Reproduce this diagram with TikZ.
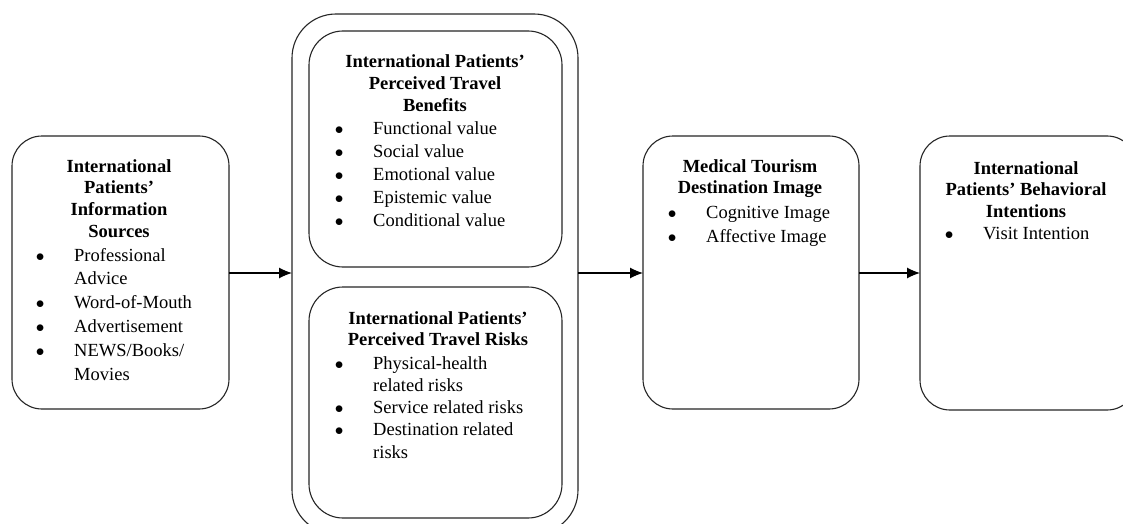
\documentclass[tikz,border=0pt]{standalone}
\usepackage{fontspec}
\setmainfont{Liberation Serif}
\usetikzlibrary{arrows.meta}
\newcommand{\bul}{\makebox[34pt][l]{\makebox[0pt]{$\bullet$}}}
\begin{document}
\begin{tikzpicture}[x=1pt,y=-1pt,
  box/.style={draw=black!85,line width=1.1pt,rounded corners=30pt},
  outerbox/.style={draw=black!85,line width=1.1pt,rounded corners=44pt},
  innerbox/.style={draw=black!85,line width=1.1pt,rounded corners=34pt},
  ttl/.style={anchor=base,inner sep=0pt,font=\fontsize{18.5}{21.8}\selectfont\bfseries},
  lst/.style={anchor=base west,inner sep=0pt},
  conn/.style={draw=black,line width=1.1pt,-{Latex[length=13pt,width=11pt]}}
]
\useasboundingbox (0,0) rectangle (1123,524);
\clip (0,0) rectangle (1123,524);
\fill[white] (0,0) rectangle (1123,524);

% boxes
\draw[box] (12,136) rectangle (229,409);
\draw[outerbox] (292,14) rectangle (578,534);
\draw[innerbox] (309,31) rectangle (562,267);
\draw[innerbox] (309,287) rectangle (562,518);
\draw[box] (643,136) rectangle (859,409);
\draw[box] (920,136) rectangle (1137,410);

% connector anchors
\coordinate (b1e) at (229,273);
\coordinate (b2w) at (292,273);
\coordinate (b2e) at (578,273);
\coordinate (b3w) at (643,273);
\coordinate (b3e) at (859,273);
\coordinate (b4w) at (920,273);
\draw[conn] (b1e) -- (b2w);
\draw[conn] (b2e) -- (b3w);
\draw[conn] (b3e) -- (b4w);

% box 1
\node[ttl] (t1) at (119,172) {\begin{tabular}[t]{@{}c@{}}International\\Patients'\\Information\\Sources\end{tabular}};
\node[lst,font=\fontsize{18.5}{23.8}\selectfont] (l1) at (40,261) {\begin{tabular}[t]{@{}l@{}l@{}}
\bul & Professional\\ & Advice\\ \bul & Word-of-Mouth\\ \bul & Advertisement\\ \bul & NEWS/Books/\\ & Movies\end{tabular}};

% box 2a
\node[ttl] (t2) at (435,68) {\begin{tabular}[t]{@{}c@{}}International Patients'\\Perceived Travel\\Benefits\end{tabular}};
\node[lst,font=\fontsize{18.5}{23}\selectfont] (l2) at (339,134) {\begin{tabular}[t]{@{}l@{}l@{}}
\bul & Functional value\\ \bul & Social value\\ \bul & Emotional value\\ \bul & Epistemic value\\ \bul & Conditional value\end{tabular}};

% box 2b
\node[ttl] (t3) at (438,324) {\begin{tabular}[t]{@{}c@{}}International Patients'\\Perceived Travel Risks\end{tabular}};
\node[lst,font=\fontsize{18.5}{22.3}\selectfont] (l3) at (339,369) {\begin{tabular}[t]{@{}l@{}l@{}}
\bul & Physical-health\\ & related risks\\ \bul & Service related risks\\ \bul & Destination related\\ & risks\end{tabular}};

% box 3
\node[ttl] (t4) at (750,172) {\begin{tabular}[t]{@{}c@{}}Medical Tourism\\Destination Image\end{tabular}};
\node[lst,font=\fontsize{18.5}{24}\selectfont] (l4) at (672,218) {\begin{tabular}[t]{@{}l@{}l@{}}
\bul & Cognitive Image\\ \bul & Affective Image\end{tabular}};

% box 4
\node[ttl] (t5) at (1026,174) {\begin{tabular}[t]{@{}c@{}}International\\Patients' Behavioral\\Intentions\end{tabular}};
\node[lst,font=\fontsize{18.5}{23}\selectfont] (l5) at (949,239) {\begin{tabular}[t]{@{}l@{}l@{}}
\bul & Visit Intention\end{tabular}};
\end{tikzpicture}
\end{document}
